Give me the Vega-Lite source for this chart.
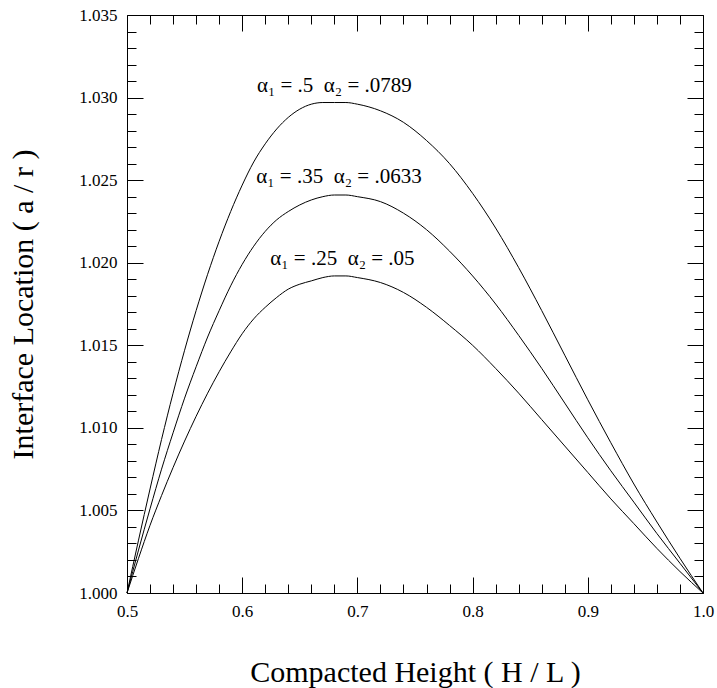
{
  "$schema": "https://vega.github.io/schema/vega-lite/v6.json",
  "width": 576,
  "height": 578,
  "autosize": {"type": "none"},
  "padding": {"left": 127, "top": 15, "right": 14, "bottom": 95},
  "background": "white",
  "config": {
    "view": {"stroke": null},
    "font": "Liberation Serif",
    "axis": {"grid": false, "domainColor": "black", "tickColor": "black", "labelColor": "black", "titleColor": "black", "labelFont": "Liberation Serif", "titleFont": "Liberation Serif", "titleFontWeight": "normal", "labelFontSize": 17, "titleFontSize": 30, "labelFlush": false, "labelOverlap": false, "domainWidth": 1, "tickWidth": 1}
  },
  "datasets": {
    "curves": [
      {"H": 0.50, "a": 1.0000, "curve": "a1=.5"},
      {"H": 0.51, "a": 1.0032, "curve": "a1=.5"},
      {"H": 0.52, "a": 1.0063, "curve": "a1=.5"},
      {"H": 0.53, "a": 1.0093, "curve": "a1=.5"},
      {"H": 0.54, "a": 1.0121, "curve": "a1=.5"},
      {"H": 0.55, "a": 1.0147, "curve": "a1=.5"},
      {"H": 0.56, "a": 1.0171, "curve": "a1=.5"},
      {"H": 0.57, "a": 1.0193, "curve": "a1=.5"},
      {"H": 0.58, "a": 1.0213, "curve": "a1=.5"},
      {"H": 0.59, "a": 1.0231, "curve": "a1=.5"},
      {"H": 0.60, "a": 1.0247, "curve": "a1=.5"},
      {"H": 0.61, "a": 1.0261, "curve": "a1=.5"},
      {"H": 0.62, "a": 1.0272, "curve": "a1=.5"},
      {"H": 0.63, "a": 1.0281, "curve": "a1=.5"},
      {"H": 0.64, "a": 1.0288, "curve": "a1=.5"},
      {"H": 0.65, "a": 1.0293, "curve": "a1=.5"},
      {"H": 0.66, "a": 1.0296, "curve": "a1=.5"},
      {"H": 0.67, "a": 1.0297, "curve": "a1=.5"},
      {"H": 0.68, "a": 1.0297, "curve": "a1=.5"},
      {"H": 0.69, "a": 1.0297, "curve": "a1=.5"},
      {"H": 0.70, "a": 1.0296, "curve": "a1=.5"},
      {"H": 0.72, "a": 1.0292, "curve": "a1=.5"},
      {"H": 0.74, "a": 1.0285, "curve": "a1=.5"},
      {"H": 0.76, "a": 1.0274, "curve": "a1=.5"},
      {"H": 0.78, "a": 1.0260, "curve": "a1=.5"},
      {"H": 0.80, "a": 1.0242, "curve": "a1=.5"},
      {"H": 0.82, "a": 1.0221, "curve": "a1=.5"},
      {"H": 0.84, "a": 1.0197, "curve": "a1=.5"},
      {"H": 0.86, "a": 1.0171, "curve": "a1=.5"},
      {"H": 0.88, "a": 1.0144, "curve": "a1=.5"},
      {"H": 0.90, "a": 1.0117, "curve": "a1=.5"},
      {"H": 0.92, "a": 1.0091, "curve": "a1=.5"},
      {"H": 0.94, "a": 1.0066, "curve": "a1=.5"},
      {"H": 0.96, "a": 1.0043, "curve": "a1=.5"},
      {"H": 0.98, "a": 1.0021, "curve": "a1=.5"},
      {"H": 1.00, "a": 1.0000, "curve": "a1=.5"},
      {"H": 0.50, "a": 1.0000, "curve": "a1=.35"},
      {"H": 0.51, "a": 1.0026, "curve": "a1=.35"},
      {"H": 0.52, "a": 1.0051, "curve": "a1=.35"},
      {"H": 0.53, "a": 1.0075, "curve": "a1=.35"},
      {"H": 0.54, "a": 1.0097, "curve": "a1=.35"},
      {"H": 0.55, "a": 1.0118, "curve": "a1=.35"},
      {"H": 0.56, "a": 1.0137, "curve": "a1=.35"},
      {"H": 0.57, "a": 1.0155, "curve": "a1=.35"},
      {"H": 0.58, "a": 1.0171, "curve": "a1=.35"},
      {"H": 0.59, "a": 1.0186, "curve": "a1=.35"},
      {"H": 0.60, "a": 1.0199, "curve": "a1=.35"},
      {"H": 0.61, "a": 1.0210, "curve": "a1=.35"},
      {"H": 0.62, "a": 1.0219, "curve": "a1=.35"},
      {"H": 0.63, "a": 1.0226, "curve": "a1=.35"},
      {"H": 0.64, "a": 1.0231, "curve": "a1=.35"},
      {"H": 0.65, "a": 1.0235, "curve": "a1=.35"},
      {"H": 0.66, "a": 1.0238, "curve": "a1=.35"},
      {"H": 0.67, "a": 1.0240, "curve": "a1=.35"},
      {"H": 0.68, "a": 1.0241, "curve": "a1=.35"},
      {"H": 0.69, "a": 1.0241, "curve": "a1=.35"},
      {"H": 0.70, "a": 1.0240, "curve": "a1=.35"},
      {"H": 0.72, "a": 1.0237, "curve": "a1=.35"},
      {"H": 0.74, "a": 1.0230, "curve": "a1=.35"},
      {"H": 0.76, "a": 1.0220, "curve": "a1=.35"},
      {"H": 0.78, "a": 1.0207, "curve": "a1=.35"},
      {"H": 0.80, "a": 1.0192, "curve": "a1=.35"},
      {"H": 0.82, "a": 1.0175, "curve": "a1=.35"},
      {"H": 0.84, "a": 1.0156, "curve": "a1=.35"},
      {"H": 0.86, "a": 1.0136, "curve": "a1=.35"},
      {"H": 0.88, "a": 1.0115, "curve": "a1=.35"},
      {"H": 0.90, "a": 1.0094, "curve": "a1=.35"},
      {"H": 0.92, "a": 1.0074, "curve": "a1=.35"},
      {"H": 0.94, "a": 1.0055, "curve": "a1=.35"},
      {"H": 0.96, "a": 1.0036, "curve": "a1=.35"},
      {"H": 0.98, "a": 1.0018, "curve": "a1=.35"},
      {"H": 1.00, "a": 1.0000, "curve": "a1=.35"},
      {"H": 0.50, "a": 1.0000, "curve": "a1=.25"},
      {"H": 0.51, "a": 1.0021, "curve": "a1=.25"},
      {"H": 0.52, "a": 1.0041, "curve": "a1=.25"},
      {"H": 0.53, "a": 1.0059, "curve": "a1=.25"},
      {"H": 0.54, "a": 1.0076, "curve": "a1=.25"},
      {"H": 0.55, "a": 1.0092, "curve": "a1=.25"},
      {"H": 0.56, "a": 1.0107, "curve": "a1=.25"},
      {"H": 0.57, "a": 1.0121, "curve": "a1=.25"},
      {"H": 0.58, "a": 1.0134, "curve": "a1=.25"},
      {"H": 0.59, "a": 1.0146, "curve": "a1=.25"},
      {"H": 0.60, "a": 1.0157, "curve": "a1=.25"},
      {"H": 0.61, "a": 1.0166, "curve": "a1=.25"},
      {"H": 0.62, "a": 1.0173, "curve": "a1=.25"},
      {"H": 0.63, "a": 1.0179, "curve": "a1=.25"},
      {"H": 0.64, "a": 1.0184, "curve": "a1=.25"},
      {"H": 0.65, "a": 1.0187, "curve": "a1=.25"},
      {"H": 0.66, "a": 1.0189, "curve": "a1=.25"},
      {"H": 0.67, "a": 1.0191, "curve": "a1=.25"},
      {"H": 0.68, "a": 1.0192, "curve": "a1=.25"},
      {"H": 0.69, "a": 1.0192, "curve": "a1=.25"},
      {"H": 0.70, "a": 1.0191, "curve": "a1=.25"},
      {"H": 0.72, "a": 1.0188, "curve": "a1=.25"},
      {"H": 0.74, "a": 1.0182, "curve": "a1=.25"},
      {"H": 0.76, "a": 1.0173, "curve": "a1=.25"},
      {"H": 0.78, "a": 1.0162, "curve": "a1=.25"},
      {"H": 0.80, "a": 1.0150, "curve": "a1=.25"},
      {"H": 0.82, "a": 1.0136, "curve": "a1=.25"},
      {"H": 0.84, "a": 1.0121, "curve": "a1=.25"},
      {"H": 0.86, "a": 1.0105, "curve": "a1=.25"},
      {"H": 0.88, "a": 1.0089, "curve": "a1=.25"},
      {"H": 0.90, "a": 1.0073, "curve": "a1=.25"},
      {"H": 0.92, "a": 1.0057, "curve": "a1=.25"},
      {"H": 0.94, "a": 1.0042, "curve": "a1=.25"},
      {"H": 0.96, "a": 1.0027, "curve": "a1=.25"},
      {"H": 0.98, "a": 1.0013, "curve": "a1=.25"},
      {"H": 1.00, "a": 1.0000, "curve": "a1=.25"}
    ],
    "labels": [
      {"H": 0.680, "a": 1.0307, "label": "α₁ = .5 \u00a0α₂ = .0789"},
      {"H": 0.684, "a": 1.0252, "label": "α₁ = .35 \u00a0α₂ = .0633"},
      {"H": 0.687, "a": 1.0202, "label": "α₁ = .25 \u00a0α₂ = .05"}
    ]
  },
  "layer": [
    {
      "data": {"name": "curves"},
      "mark": {"type": "line", "color": "black", "strokeWidth": 1, "interpolate": "monotone"},
      "encoding": {
        "x": {"field": "H", "type": "quantitative", "scale": {"domain": [0.5, 1.0], "nice": false, "zero": false},
          "axis": {"orient": "bottom", "title": "Compacted Height ( H / L )",
            "values": [0.5,0.52,0.54,0.56,0.58,0.6,0.62,0.64,0.66,0.68,0.7,0.72,0.74,0.76,0.78,0.8,0.82,0.84,0.86,0.88,0.9,0.92,0.94,0.96,0.98,1.0],
            "labelExpr": "abs(datum.value*10-round(datum.value*10))<0.01 ? format(datum.value,'.1f') : ''",
            "tickSize": {"condition": {"test": "abs(datum.value*10-round(datum.value*10))<0.01", "value": -16}, "value": -9},
            "labelPadding": 26, "titlePadding": 31}},
        "y": {"field": "a", "type": "quantitative", "scale": {"domain": [1.0, 1.035], "nice": false, "zero": false},
          "axis": {"orient": "left", "title": "Interface Location ( a / r )",
            "values": [1.0,1.001,1.002,1.003,1.004,1.005,1.006,1.007,1.008,1.009,1.01,1.011,1.012,1.013,1.014,1.015,1.016,1.017,1.018,1.019,1.02,1.021,1.022,1.023,1.024,1.025,1.026,1.027,1.028,1.029,1.03,1.031,1.032,1.033,1.034,1.035],
            "labelExpr": "abs(datum.value*200-round(datum.value*200))<0.01 ? format(datum.value,'.3f') : ''",
            "tickSize": {"condition": {"test": "abs(datum.value*200-round(datum.value*200))<0.01", "value": -16}, "value": -9},
            "labelPadding": 26, "titlePadding": 40}},
        "detail": {"field": "curve", "type": "nominal"}
      }
    },
    {
      "data": {"name": "labels"},
      "mark": {"type": "text", "font": "Liberation Serif", "fontSize": 21, "color": "black", "baseline": "middle", "align": "center"},
      "encoding": {
        "x": {"field": "H", "type": "quantitative",
          "axis": {"orient": "top", "title": null, "labels": false,
            "values": [0.5,0.52,0.54,0.56,0.58,0.6,0.62,0.64,0.66,0.68,0.7,0.72,0.74,0.76,0.78,0.8,0.82,0.84,0.86,0.88,0.9,0.92,0.94,0.96,0.98,1.0],
            "tickSize": {"condition": {"test": "abs(datum.value*10-round(datum.value*10))<0.01", "value": -16}, "value": -9}}},
        "y": {"field": "a", "type": "quantitative",
          "axis": {"orient": "right", "title": null, "labels": false,
            "values": [1.0,1.001,1.002,1.003,1.004,1.005,1.006,1.007,1.008,1.009,1.01,1.011,1.012,1.013,1.014,1.015,1.016,1.017,1.018,1.019,1.02,1.021,1.022,1.023,1.024,1.025,1.026,1.027,1.028,1.029,1.03,1.031,1.032,1.033,1.034,1.035],
            "tickSize": {"condition": {"test": "abs(datum.value*200-round(datum.value*200))<0.01", "value": -16}, "value": -9}}},
        "text": {"field": "label", "type": "nominal"}
      }
    }
  ],
  "resolve": {"axis": {"x": "independent", "y": "independent"}}
}
